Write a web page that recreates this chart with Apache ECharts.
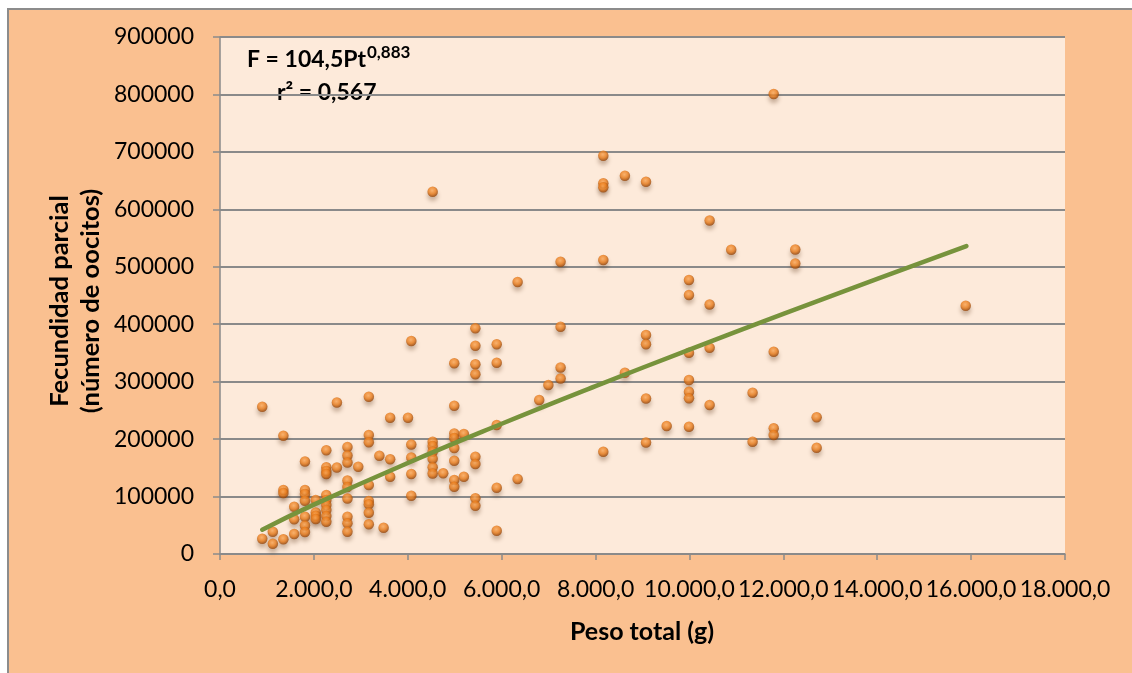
<!DOCTYPE html>
<html>
<head>
<meta charset="utf-8">
<script src="https://cdn.jsdelivr.net/npm/echarts@6/dist/echarts.min.js"></script>
<style>
  html, body { margin: 0; padding: 0; background: #ffffff; }
  #bg { position: absolute; left: 7px; top: 8px; width: 1125px; height: 665px;
        background: #FAC090; border-left: 2px solid #8c8c8c; border-top: 2px solid #8c8c8c; box-sizing: border-box; }
  #chart { position: absolute; left: 0; top: 0; width: 1132px; height: 673px; }
</style>
</head>
<body>
<div id="bg"></div>
<div id="chart"></div>
<script>
// Peso total (g)
const pesoTotal = [
  900, 900,
  1125, 1125,
  1350, 1350, 1350, 1350,
  1580, 1580, 1580,
  1810, 1810, 1810, 1810, 1810, 1810, 1810,
  2040, 2040, 2040, 2040,
  2265, 2265, 2265, 2265, 2265, 2265, 2265, 2265, 2265, 2265,
  2490, 2490,
  2715, 2715, 2715, 2715, 2715, 2715, 2715, 2715, 2715,
  2945,
  3170, 3170, 3170, 3170, 3170, 3170, 3170, 3170,
  3395, 3485,
  3625, 3625, 3625,
  4005,
  4075, 4075, 4075, 4075, 4075,
  4530, 4530, 4530, 4530, 4530, 4530, 4530,
  4755,
  4990, 4990, 4990, 4990, 4990, 4990, 4990, 4990,
  5195, 5195,
  5440, 5440, 5440, 5440, 5440, 5440, 5440, 5440,
  5895, 5895, 5895, 5895, 5895,
  6340, 6340,
  6800, 6995,
  7255, 7255, 7255, 7255,
  8165, 8165, 8165, 8165, 8165,
  8625, 8625,
  9075, 9075, 9075, 9075, 9075,
  9515,
  9990, 9990, 9990, 9990, 9990, 9990, 9990,
  10430, 10430, 10430, 10430,
  10890,
  11345, 11345,
  11795, 11795, 11795, 11795,
  12255, 12255,
  12710, 12710,
  15885
];
// Fecundidad parcial (número de oocitos)
const fecundidad = [
  256400, 26600,
  38800, 17900,
  205900, 111400, 106200, 25600,
  82300, 60600, 34800,
  161000, 111400, 104400, 92800, 64900, 49600, 38300,
  94000, 72200, 66500, 60900,
  180500, 150900, 144500, 139300, 102700, 94000, 85300, 76600, 66200, 56200,
  263700, 150600,
  186300, 171500, 159300, 127900, 116600, 96600, 64900, 53400, 38800,
  152000,
  273800, 207200, 194400, 120100, 92300, 86500, 71900, 51700,
  171100, 45800,
  237300, 164900, 134600,
  237300,
  370800, 190600, 168000, 139300, 101500,
  630700, 195500, 188000, 178100, 165900, 150900, 140100,
  140500,
  332000, 258200, 209800, 201900, 184500, 162400, 128800, 117200,
  208900, 134600,
  392900, 362600, 330200, 312800, 169400, 156700, 97000, 84100,
  365000, 333000, 224600, 115400, 40600,
  473500, 130600,
  268100, 294200,
  508800, 395700, 324700, 305500,
  693400, 645300, 638300, 511800, 178100,
  658600, 315600,
  648100, 381200, 365000, 270700, 194100,
  222800,
  477000, 450900, 350400, 302900, 282500, 271000, 221600,
  580600, 434300, 359100, 259400,
  529700,
  280800, 195500,
  800800, 352200, 218800, 207200,
  530100, 505700,
  238000, 185000,
  432200
];
// Trend line (F = 104,5 Pt^0,883)
const trendX = [900, 2000, 4000, 6000, 8000, 10000, 12000, 14000, 15900];
const trendY = [42400, 85900, 158400, 226700, 292200, 355700, 417900, 478900, 536000];

const xTickLabels = ['0,0', '2.000,0', '4.000,0', '6.000,0', '8.000,0', '10.000,0', '12.000,0', '14.000,0', '16.000,0', '18.000,0'];
const yTickLabels = ['0', '100000', '200000', '300000', '400000', '500000', '600000', '700000', '800000', '900000'];

const xTitle = 'Peso total (g)';
const yTitle = 'Fecundidad parcial\n(número de oocitos)';
const eqMain = 'F = 104,5Pt';
const eqExp = '0,883';
const eqR2 = 'r² = 0,567';

const FONT = 'Lato, "Open Sans", sans-serif';
const chart = echarts.init(document.getElementById('chart'));

const points = pesoTotal.map((x, i) => [x, fecundidad[i]]);
const trend = trendX.map((x, i) => [x, trendY[i]]);

chart.setOption({
  backgroundColor: 'transparent',
  animation: false,
  grid: {
    left: 220, right: 67, top: 37, bottom: 119,
    show: true, backgroundColor: '#FDEADA', borderWidth: 0
  },
  xAxis: {
    type: 'value', min: 0, max: 18000, interval: 2000,
    axisLine: { show: true, lineStyle: { color: '#8a8a8a', width: 1.5 } },
    axisTick: { show: true, length: 6, lineStyle: { color: '#8a8a8a', width: 1.5 } },
    splitLine: { show: false },
    axisLabel: {
      margin: 24, color: '#000', fontFamily: FONT, fontSize: 23,
      hideOverlap: false,
      formatter: v => xTickLabels[Math.round(v / 2000)]
    }
  },
  yAxis: {
    type: 'value', min: 0, max: 900000, interval: 100000,
    axisLine: { show: true, lineStyle: { color: '#8a8a8a', width: 1.5 } },
    axisTick: { show: true, length: 7, lineStyle: { color: '#8a8a8a', width: 1.5 } },
    splitLine: { show: true, lineStyle: { color: '#8a8a8a', width: 1.8 } },
    axisLabel: {
      margin: 26, color: '#000', fontFamily: FONT, fontSize: 23,
      formatter: v => yTickLabels[Math.round(v / 100000)]
    }
  },
  graphic: [
    { type: 'text', style: { x: 642, y: 632, text: xTitle, align: 'center', verticalAlign: 'middle',
      font: 'bold 25px ' + FONT, fill: '#000' } },
    { type: 'text', x: 75, y: 301, rotation: Math.PI / 2,
      style: { x: 0, y: 0, text: yTitle, align: 'center', verticalAlign: 'middle',
      font: 'bold 25.5px ' + FONT, lineHeight: 31, fill: '#000' } },
    { type: 'text', style: { x: 247, y: 60, text: eqMain, align: 'left', verticalAlign: 'middle',
      font: 'bold 23px ' + FONT, fill: '#000' } },
    { type: 'text', style: { x: 367, y: 53, text: eqExp, align: 'left', verticalAlign: 'middle',
      font: 'bold 17px ' + FONT, fill: '#000' } },
    { type: 'text', style: { x: 277, y: 93, text: eqR2, align: 'left', verticalAlign: 'middle',
      font: 'bold 23px ' + FONT, fill: '#000' } }
  ],
  series: [
    {
      type: 'scatter', data: points, symbol: 'circle', symbolSize: 10.5, z: 3,
      itemStyle: {
        color: new echarts.graphic.RadialGradient(0.45, 0.4, 0.6, [
          { offset: 0, color: '#FDAA5A' },
          { offset: 0.55, color: '#EC7F1E' },
          { offset: 1, color: '#934308' }
        ]),
        shadowBlur: 4, shadowColor: 'rgba(90,50,20,0.4)', shadowOffsetY: 4
      }
    },
    {
      type: 'line', data: trend, smooth: true, symbol: 'none', z: 4,
      lineStyle: { color: '#77933C', width: 4.5, cap: 'round' }
    }
  ]
});
</script>
</body>
</html>
